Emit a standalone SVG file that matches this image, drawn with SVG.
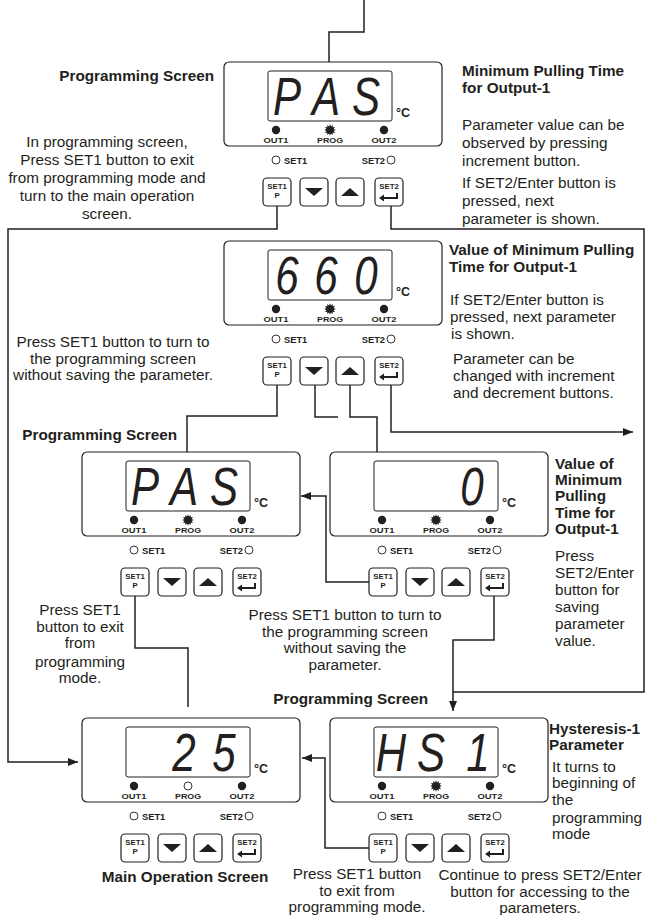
<svg xmlns="http://www.w3.org/2000/svg" xmlns:xlink="http://www.w3.org/1999/xlink" width="647" height="915" viewBox="0 0 647 915">
<style>
  text{font-family:"Liberation Sans",Arial,sans-serif;fill:#231f20}
  .t{font-size:15.3px}
  .b{font-size:15.3px;font-weight:bold}
  .m{text-anchor:middle}
  .e{text-anchor:end}
  .box{fill:#fff;stroke:#231f20;stroke-width:1.2}
  .disp{fill:#fff;stroke:#231f20;stroke-width:1}
  .btn{fill:#fff;stroke:#231f20;stroke-width:1.2}
  .lbl{font-size:8px;font-weight:bold;text-anchor:middle}
  .ind{font-size:9.3px;font-weight:bold}
  .bt{font-size:7.8px;font-weight:bold;text-anchor:middle}
  .deg{font-size:12.5px;font-weight:bold}
  .dg{font-size:54px;font-style:italic;text-anchor:middle}
  .ln{fill:none;stroke:#231f20;stroke-width:1.5}
  .led{fill:#231f20}
  .ring{fill:#fff;stroke:#231f20;stroke-width:0.9}
</style>
<defs>
  <marker id="ah" viewBox="0 0 10 8" refX="10" refY="4" markerWidth="10" markerHeight="8" orient="auto" markerUnits="userSpaceOnUse">
    <path d="M0,0 L10,4 L0,8 z" fill="#231f20"/>
  </marker>
  <polygon id="star" class="led" points="5.8,0 3.6,0.96 5.02,2.9 2.65,2.65 2.9,5.02 0.96,3.6 0,5.8 -0.96,3.6 -2.9,5.02 -2.65,2.65 -5.02,2.9 -3.6,0.96 -5.8,0 -3.6,-0.96 -5.02,-2.9 -2.65,-2.65 -2.9,-5.02 -0.96,-3.6 0,-5.8 0.96,-3.6 2.9,-5.02 2.65,-2.65 5.02,-2.9 3.6,-0.96"/>
  <g id="devbase">
    <rect class="box" x="0" y="0" width="218" height="84" rx="5"/>
    <rect class="disp" x="44" y="9" width="124" height="50" rx="2"/>
    <text class="deg" x="172" y="55">°C</text>
    <circle class="led" cx="52" cy="68" r="4.2"/>
    <circle class="led" cx="160" cy="68" r="4.2"/>
    <text class="lbl" x="52" y="81" textLength="25" lengthAdjust="spacingAndGlyphs">OUT1</text>
    <text class="lbl" x="106" y="81" textLength="26" lengthAdjust="spacingAndGlyphs">PROG</text>
    <text class="lbl" x="160" y="81" textLength="25" lengthAdjust="spacingAndGlyphs">OUT2</text>
    <circle class="ring" cx="52" cy="98" r="4"/>
    <text class="ind" x="60" y="101.5">SET1</text>
    <text class="ind e" x="161" y="101.5">SET2</text>
    <circle class="ring" cx="167" cy="98" r="4"/>
    <rect class="btn" x="39" y="116" width="28" height="28" rx="4"/>
    <rect class="btn" x="76" y="116" width="28" height="28" rx="4"/>
    <rect class="btn" x="112" y="116" width="28" height="28" rx="4"/>
    <rect class="btn" x="151" y="116" width="28" height="28" rx="4"/>
    <text class="bt" x="53" y="126.5">SET1</text>
    <text class="bt" x="53" y="136">P</text>
    <polygon class="led" points="81,126 99,126 90,134"/>
    <polygon class="led" points="117,134 135,134 126,126"/>
    <text class="bt" x="165" y="126.5">SET2</text>
    <path d="M159,136 H173 V131" fill="none" stroke="#231f20" stroke-width="2"/>
    <polygon class="led" points="155,136 160,132.5 160,139.5"/>
  </g>
</defs>

<g id="connectors">
  <path class="ln" d="M364,0 V32 H329 V62"/>
  <path class="ln" d="M277,206 V229 H8 V762 H78" marker-end="url(#ah)"/>
  <path class="ln" d="M391,206 V229 H644 V692 H453"/>
  <path class="ln" d="M277,385 V416 H187 V452"/>
  <path class="ln" d="M315,385 V417 H338"/>
  <path class="ln" d="M350,385 V417 H377 V452"/>
  <path class="ln" d="M391,385 V432 H633" marker-end="url(#ah)"/>
  <path class="ln" d="M369,582 H326 V496 H301" marker-end="url(#ah)"/>
  <path class="ln" d="M135,596 V648 H188 V707"/>
  <path class="ln" d="M494,596 V640 H453 V711" marker-end="url(#ah)"/>
  <path class="ln" d="M369,848 H325 V758 H302" marker-end="url(#ah)"/>
</g>

<g id="dev-pas-top" transform="translate(224,62)">
  <use xlink:href="#devbase"/>
  <use xlink:href="#star" x="106" y="68"/>
  <text class="dg" transform="scale(0.78,1)" x="80.8 130.8 182.1" y="53">PAS</text>
</g>

<g id="dev-660" transform="translate(224,241)">
  <use xlink:href="#devbase"/>
  <use xlink:href="#star" x="106" y="68"/>
  <text class="dg" transform="scale(0.78,1)" x="80.8 130.8 182.1" y="53">660</text>
</g>

<g id="dev-pas-mid" transform="translate(82,452)">
  <use xlink:href="#devbase"/>
  <use xlink:href="#star" x="106" y="68"/>
  <text class="dg" transform="scale(0.78,1)" x="80.8 130.8 182.1" y="53">PAS</text>
</g>

<g id="dev-0" transform="translate(330,452)">
  <use xlink:href="#devbase"/>
  <use xlink:href="#star" x="106" y="68"/>
  <text class="dg" transform="scale(0.78,1)" x="182.1" y="53">0</text>
</g>

<g id="dev-main" transform="translate(82,718)">
  <use xlink:href="#devbase"/>
  <circle class="ring" cx="106" cy="68" r="4"/>
  <text class="dg" transform="scale(0.78,1)" x="130.8 182.1" y="53">25</text>
</g>

<g id="dev-hs1" transform="translate(330,718)">
  <use xlink:href="#devbase"/>
  <use xlink:href="#star" x="106" y="68"/>
  <text class="dg" transform="scale(0.78,1)" x="78.2 129.5 189.7" y="53">HS1</text>
</g>

<g id="labels">
  <text class="b e" x="214" y="81">Programming Screen</text>
  <text class="t m" x="107" y="147">In programming screen,</text>
  <text class="t m" x="107" y="165">Press SET1 button to exit</text>
  <text class="t m" x="107" y="183">from programming mode and</text>
  <text class="t m" x="107" y="201">turn to the main operation</text>
  <text class="t m" x="107" y="219">screen.</text>

  <text class="b" x="462" y="76">Minimum Pulling Time</text>
  <text class="b" x="462" y="93">for Output-1</text>
  <text class="t" x="462" y="130">Parameter value can be</text>
  <text class="t" x="462" y="148">observed by pressing</text>
  <text class="t" x="462" y="166">increment button.</text>
  <text class="t" x="462" y="188">If SET2/Enter button is</text>
  <text class="t" x="462" y="206">pressed, next</text>
  <text class="t" x="462" y="224">parameter is shown.</text>

  <text class="b" x="449" y="255">Value of Minimum Pulling</text>
  <text class="b" x="449" y="272">Time for Output-1</text>
  <text class="t" x="450" y="305">If SET2/Enter button is</text>
  <text class="t" x="450" y="322">pressed, next parameter</text>
  <text class="t" x="451" y="339">is shown.</text>
  <text class="t" x="453" y="364">Parameter can be</text>
  <text class="t" x="453" y="381">changed with increment</text>
  <text class="t" x="453" y="398">and decrement buttons.</text>

  <text class="t m" x="113" y="347">Press SET1 button to turn to</text>
  <text class="t m" x="113" y="363.5">the programming screen</text>
  <text class="t m" x="113" y="380">without saving the parameter.</text>
  <text class="b e" x="177" y="440">Programming Screen</text>

  <text class="b" x="555" y="469">Value of</text>
  <text class="b" x="555" y="485">Minimum</text>
  <text class="b" x="555" y="501">Pulling</text>
  <text class="b" x="555" y="518">Time for</text>
  <text class="b" x="555" y="534">Output-1</text>
  <text class="t" x="555" y="561">Press</text>
  <text class="t" x="555" y="578">SET2/Enter</text>
  <text class="t" x="555" y="595">button for</text>
  <text class="t" x="555" y="612">saving</text>
  <text class="t" x="555" y="629">parameter</text>
  <text class="t" x="555" y="646">value.</text>

  <text class="t m" x="345" y="620">Press SET1 button to turn to</text>
  <text class="t m" x="345" y="637">the programming screen</text>
  <text class="t m" x="345" y="653">without saving the</text>
  <text class="t m" x="345" y="670">parameter.</text>

  <text class="t m" x="80" y="615">Press SET1</text>
  <text class="t m" x="80" y="632">button to exit</text>
  <text class="t m" x="80" y="648">from</text>
  <text class="t m" x="80" y="667">programming</text>
  <text class="t m" x="80" y="683">mode.</text>

  <text class="b e" x="428" y="704">Programming Screen</text>

  <text class="b" x="549" y="734">Hysteresis-1</text>
  <text class="b" x="549" y="750">Parameter</text>
  <text class="t" x="552" y="772">It turns to</text>
  <text class="t" x="552" y="788">beginning of</text>
  <text class="t" x="552" y="805">the</text>
  <text class="t" x="552" y="823">programming</text>
  <text class="t" x="552" y="839">mode</text>

  <text class="b m" x="185" y="882">Main Operation Screen</text>
  <text class="t m" x="357" y="879">Press SET1 button</text>
  <text class="t m" x="357" y="896">to exit from</text>
  <text class="t m" x="357" y="912">programming mode.</text>
  <text class="t m" x="540" y="880">Continue to press SET2/Enter</text>
  <text class="t m" x="540" y="897">button for accessing to the</text>
  <text class="t m" x="540" y="913">parameters.</text>
</g>
</svg>
